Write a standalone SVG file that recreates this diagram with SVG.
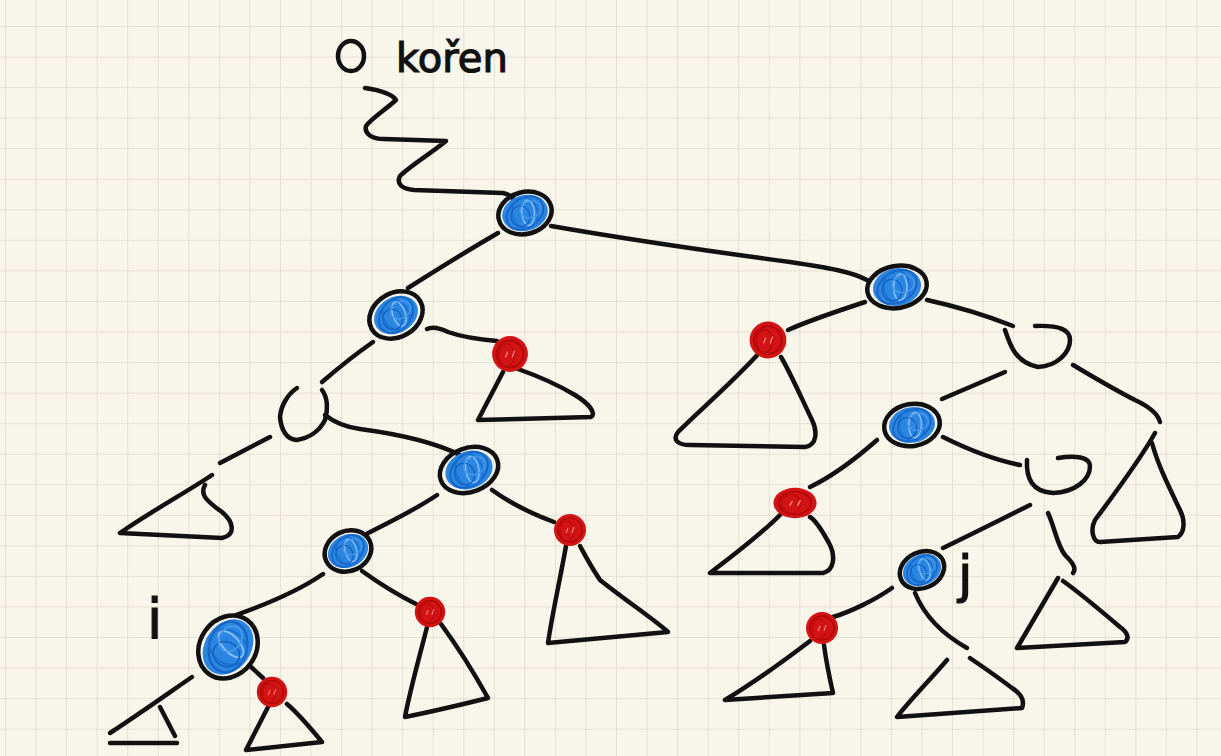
<svg xmlns="http://www.w3.org/2000/svg" xmlns:xlink="http://www.w3.org/1999/xlink" width="1221" height="756" viewBox="0 0 1221 756">
  <defs>
    <pattern id="grid" x="5" y="-3.55" width="30.55" height="30.55" patternUnits="userSpaceOnUse">
      <path d="M0,0 V30.55 M0,30.55 H30.55" fill="none" stroke="#e0dccd" stroke-width="1.6"/>
    </pattern>
    <!-- blue scribbled fill, unit size rx 22 / ry 17 -->
    <g id="blueScribble">
      <ellipse rx="22" ry="17" fill="#2a86e0"/>
      <ellipse rx="19" ry="14" fill="none" stroke="#1763c4" stroke-width="1.6" transform="rotate(-20)"/>
      <ellipse rx="12" ry="15" fill="none" stroke="#1b6fd2" stroke-width="1.4"/>
      <ellipse cx="3" rx="6" ry="12" fill="none" stroke="#86c0f5" stroke-width="1.4" transform="rotate(12)"/>
      <ellipse cx="-5" cy="2" rx="9" ry="10" fill="none" stroke="#1560c0" stroke-width="1.2"/>
      <ellipse cx="6" cy="-2" rx="10" ry="8" fill="none" stroke="#4a9bea" stroke-width="1.2"/>
    </g>
    <!-- red scribbled dot, unit radius 16 -->
    <g id="redDot">
      <circle r="16" fill="#d21414"/>
      <circle r="12" fill="none" stroke="#b00808" stroke-width="1.6"/>
      <ellipse cx="-3" cy="1" rx="7" ry="10" fill="none" stroke="#c00c0c" stroke-width="1.4"/>
      <path d="M-2,-2 l-2,5 M4,-3 l-2,6" stroke="#f08080" stroke-width="1.2" fill="none"/>
    </g>
  </defs>
  <style>
    .ln { fill: none; stroke: #111; stroke-width: 4.5; stroke-linecap: round; stroke-linejoin: round; }
    .ol { fill: none; stroke: #111; stroke-width: 4.5; }
    .hand { font-family: "DejaVu Sans", sans-serif; fill: #111; stroke: #111; stroke-width: 1.2; }
  </style>

  <!-- paper -->
  <rect width="1221" height="756" fill="#f8f5ea"/>
  <rect width="1221" height="756" fill="url(#grid)"/>

  <!-- root label -->
  <g id="root-label">
    <ellipse cx="351" cy="56" rx="13" ry="15" class="ol" stroke-width="4"/>
    <text x="396" y="72" class="hand" font-size="40">kořen</text>
  </g>

  <!-- connectors -->
  <g id="connectors" class="ln">
    <!-- path from the root down to the top node -->
    <path d="M365,88 C378,90 392,94 396,100 C385,110 372,118 366,126 C364,134 372,139 384,139 L446,141 C430,154 410,166 400,176 C396,184 402,189 414,190 L503,193 C509,194 512,197 514,200"/>
    <path d="M498,233 Q460,255 408,288"/>
    <path d="M551,226 C620,238 700,250 790,262 C830,268 852,272 867,280"/>
    <path d="M427,329 C433,326 440,328 448,332 C465,338 485,340 497,341"/>
    <path d="M373,342 Q350,358 322,382"/>
    <path d="M325,415 C335,423 345,427 360,429 C390,433 430,440 460,455"/>
    <path d="M270,437 L220,463"/>
    <path d="M437,495 C415,510 390,522 368,533"/>
    <path d="M492,490 C510,503 535,515 554,522"/>
    <path d="M323,574 C300,590 270,603 236,615"/>
    <path d="M362,571 C380,584 400,596 416,604"/>
    <path d="M192,677 C170,692 145,710 110,733"/>
    <path d="M250,666 L263,678"/>
    <path d="M865,302 C835,312 810,320 788,330"/>
    <path d="M927,300 C950,305 985,315 1013,326"/>
    <path d="M1073,365 C1095,378 1115,390 1135,400 C1150,407 1158,414 1160,422"/>
    <path d="M1005,372 Q975,385 942,399"/>
    <path d="M877,440 C860,455 835,475 810,487"/>
    <path d="M943,437 C965,448 995,460 1020,465"/>
    <path d="M1030,505 C1000,520 970,535 943,548"/>
    <path d="M1048,513 C1055,528 1057,545 1065,555 C1072,562 1077,568 1073,573"/>
    <path d="M892,588 C875,600 850,612 833,617"/>
    <path d="M915,593 C922,610 935,630 967,648"/>
  </g>

  <!-- subtrees (triangles) -->
  <g id="subtrees" class="ln">
    <path id="tri-a" d="M503,372 L478,420 L591,417 C597,413 588,403 575,395 C555,383 535,375 518,369"/>
    <path id="tri-left" d="M212,475 C190,490 150,512 120,533 L222,538 C236,535 234,522 222,512 C205,500 200,494 205,485"/>
    <path id="tri-b" d="M566,546 C560,580 552,615 548,643 L668,632 C655,620 625,600 600,580 C590,565 585,555 580,546"/>
    <path id="tri-i-left" d="M160,707 L175,736 M110,743 L177,743"/>
    <path id="tri-c" d="M268,707 L246,750 L322,742 C312,730 300,715 287,704"/>
    <path id="tri-d" d="M427,627 C420,655 410,690 405,717 C430,712 460,705 488,698 C478,680 460,650 441,624"/>
    <path id="tri-e" d="M760,352 C735,380 700,410 678,432 C672,440 678,445 690,445 L805,447 C818,445 817,430 812,420 C800,395 790,372 781,357"/>
    <path id="tri-right" d="M1155,433 C1140,460 1110,500 1095,520 C1090,530 1093,542 1100,542 L1178,537 C1185,532 1185,520 1180,510 C1168,485 1158,465 1152,443"/>
    <path id="tri-f" d="M780,515 C760,535 730,558 710,573 L823,573 C835,570 835,555 830,545 C822,530 815,520 810,517"/>
    <path id="tri-g" d="M1058,578 L1017,648 L1125,642 C1130,638 1127,632 1120,627 C1100,610 1080,593 1063,581"/>
    <path id="tri-h" d="M810,641 C785,660 750,685 725,700 L833,693 C830,680 826,660 824,645"/>
    <path id="tri-j" d="M947,660 C930,680 910,700 897,717 L1022,708 C1025,700 1020,693 1012,688 C995,675 980,665 970,658"/>
  </g>

  <!-- blue nodes -->
  <g id="node-top">
    <use xlink:href="#blueScribble" transform="translate(525,213) rotate(-15) scale(1.05)"/>
    <ellipse cx="525" cy="213" rx="27" ry="21" class="ol" transform="rotate(-15 525 213)"/>
  </g>
  <g id="node-l">
    <use xlink:href="#blueScribble" transform="translate(396,315) rotate(-30) scale(1.05)"/>
    <ellipse cx="396" cy="315" rx="28" ry="22" class="ol" transform="rotate(-30 396 315)"/>
  </g>
  <g id="node-r">
    <use xlink:href="#blueScribble" transform="translate(897,287) rotate(-10) scale(1.1)"/>
    <ellipse cx="897" cy="287" rx="30" ry="21" class="ol" transform="rotate(-10 897 287)"/>
  </g>
  <g id="node-lrl">
    <use xlink:href="#blueScribble" transform="translate(469,470) rotate(-20) scale(1.1)"/>
    <ellipse cx="469" cy="470" rx="30" ry="22" class="ol" transform="rotate(-20 469 470)"/>
  </g>
  <g id="node-lrll">
    <use xlink:href="#blueScribble" transform="translate(348,551) rotate(-25) scale(0.95)"/>
    <ellipse cx="348" cy="551" rx="24" ry="20" class="ol" transform="rotate(-25 348 551)"/>
  </g>
  <g id="node-i">
    <use xlink:href="#blueScribble" transform="translate(228,647) rotate(-55) scale(1.35)"/>
    <ellipse cx="228" cy="647" rx="33" ry="28" class="ol" transform="rotate(-55 228 647)"/>
    <text x="147" y="638" class="hand" font-size="55">i</text>
  </g>
  <g id="node-rrl">
    <use xlink:href="#blueScribble" transform="translate(912,425) rotate(-10) scale(1.05)"/>
    <ellipse cx="912" cy="425" rx="28" ry="21" class="ol" transform="rotate(-10 912 425)"/>
  </g>
  <g id="node-j">
    <use xlink:href="#blueScribble" transform="translate(922,570) rotate(-25) scale(0.9)"/>
    <ellipse cx="922" cy="570" rx="23" ry="18" class="ol" transform="rotate(-25 922 570)"/>
    <text x="958" y="592" class="hand" font-size="52">j</text>
  </g>

  <!-- empty nodes -->
  <g id="empty-1" class="ln">
    <path d="M297,388 C288,394 281,405 280,417 C281,430 287,440 297,440 C310,438 320,430 325,420 C328,410 328,398 322,390"/>
  </g>
  <g id="empty-2" class="ln">
    <path d="M1005,330 C1010,345 1015,362 1038,367 C1058,366 1070,352 1070,340 C1070,330 1060,325 1035,326"/>
  </g>
  <g id="empty-3" class="ln">
    <path d="M1027,460 C1026,478 1032,492 1053,493 C1075,492 1090,480 1090,466 C1090,457 1075,455 1058,458"/>
  </g>

  <!-- red nodes -->
  <g id="red-a"><use xlink:href="#redDot" transform="translate(510,354) scale(1.12)"/></g>
  <g id="red-b"><use xlink:href="#redDot" transform="translate(570,530) scale(1)"/></g>
  <g id="red-c"><use xlink:href="#redDot" transform="translate(272,692) scale(0.95)"/></g>
  <g id="red-d"><use xlink:href="#redDot" transform="translate(430,612) scale(0.95)"/></g>
  <g id="red-e"><use xlink:href="#redDot" transform="translate(768,340) scale(1.15)"/></g>
  <g id="red-f"><use xlink:href="#redDot" transform="translate(795,503) scale(1.35 0.95)"/></g>
  <g id="red-g"><use xlink:href="#redDot" transform="translate(822,628) scale(1)"/></g>
</svg>
